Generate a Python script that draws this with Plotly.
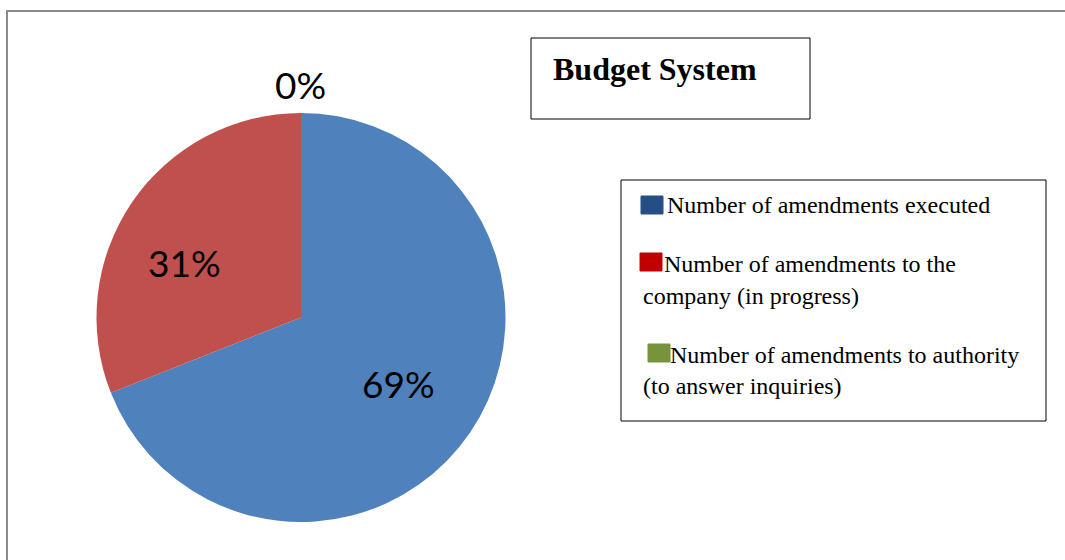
import math
import plotly.graph_objects as go

W, H = 1065, 560

# ---- data ----
categories = [
    "Number of amendments executed",
    "Number of amendments to the company (in progress)",
    "Number of amendments to authority (to answer inquiries)",
]
shares = [69, 31, 0]
title_text = "Budget System"
legend_lines = [
    ["Number of amendments executed"],
    ["Number of amendments to the", "company (in progress)"],
    ["Number of amendments to authority", "(to answer inquiries)"],
]

pie_colors = ["#4F81BD", "#C0504D", "#9BBB59"]
swatch_colors = ["#254F84", "#C00000", "#77933C"]

SERIF = "Times New Roman, Liberation Serif, serif"
SANS = "Lato, Open Sans, sans-serif"


def px(x):
    return x / W


def py(y):
    return 1 - y / H


# pie geometry (pixels)
CX, CY, R = 301, 317.5, 204.5

fig = go.Figure()
fig.add_trace(go.Pie(
    labels=categories,
    values=shares,
    sort=False,
    direction="clockwise",
    rotation=0,
    marker=dict(colors=pie_colors, line=dict(width=0)),
    textinfo="none",
    domain=dict(x=[px(CX - R), px(CX + R)], y=[py(CY + R), py(CY - R)]),
    showlegend=False,
    hoverinfo="label+percent",
))

shapes = []
annotations = []

# outer chart frame
shapes.append(dict(type="rect", xref="paper", yref="paper",
                   x0=px(7), x1=px(W + 10), y0=py(11), y1=py(H + 10),
                   line=dict(color="#8A8A8A", width=2), fillcolor="rgba(0,0,0,0)"))

# percentage labels: placed along each slice's mid-angle (derived from the data)
label_radius = [0.575, 0.63, 1.14]   # fraction of pie radius
label_shift = [0, -9, 0]             # angular nudge in degrees
total = sum(shares)
cum = 0
for i, v in enumerate(shares):
    mid = (cum + v / 2) / total * 360 + label_shift[i]   # clockwise from 12 o'clock
    cum += v
    rr = label_radius[i] * R
    lx = CX + rr * math.sin(math.radians(mid))
    ly = CY - rr * math.cos(math.radians(mid))
    annotations.append(dict(xref="paper", yref="paper", x=px(lx), y=py(ly),
                            text=f"{round(v / total * 100)}%", showarrow=False,
                            xanchor="center", yanchor="middle",
                            font=dict(family=SANS, size=37, color="#000000")))

# title box
shapes.append(dict(type="rect", xref="paper", yref="paper",
                   x0=px(531), x1=px(810), y0=py(38), y1=py(119),
                   line=dict(color="#000000", width=1), fillcolor="white"))
annotations.append(dict(xref="paper", yref="paper", x=px(551), y=py(69),
                        text=f"<b>{title_text}</b>", showarrow=False,
                        xanchor="left", yanchor="middle",
                        font=dict(family=SERIF, size=32, color="#000000")))

# legend box
shapes.append(dict(type="rect", xref="paper", yref="paper",
                   x0=px(621), x1=px(1046), y0=py(180), y1=py(421),
                   line=dict(color="#000000", width=1), fillcolor="white"))

swatch_pos = [(641, 196), (640, 253), (648, 344)]
line_ys = [[205], [264, 296], [355, 386]]
first_x = [665, 662, 668]
for i, lines in enumerate(legend_lines):
    sx, sy = swatch_pos[i]
    shapes.append(dict(type="rect", xref="paper", yref="paper",
                       x0=px(sx), x1=px(sx + 22), y0=py(sy), y1=py(sy + 18),
                       line=dict(color=swatch_colors[i], width=1),
                       fillcolor=swatch_colors[i]))
    for j, txt in enumerate(lines):
        x = first_x[i] if j == 0 else 641
        annotations.append(dict(xref="paper", yref="paper", x=px(x), y=py(line_ys[i][j]),
                                text=txt, showarrow=False,
                                xanchor="left", yanchor="middle",
                                font=dict(family=SERIF, size=24, color="#000000")))

fig.update_layout(
    width=W, height=H,
    margin=dict(l=0, r=0, t=0, b=0),
    paper_bgcolor="white",
    plot_bgcolor="white",
    shapes=shapes,
    annotations=annotations,
    showlegend=False,
)

fig.write_html("out.html")
